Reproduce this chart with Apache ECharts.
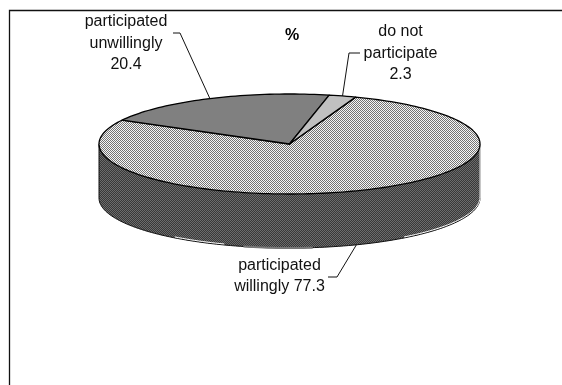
<!DOCTYPE html>
<html>
<head>
<meta charset="utf-8">
<style>html,body{margin:0;padding:0;background:#fff}#chart{width:562px;height:385px}</style>
<script src="https://cdn.jsdelivr.net/npm/echarts@6/dist/echarts.min.js"></script>
</head>
<body>
<div id="chart"></div>
<script>
// Survey shares, clockwise from the first slice
const categories = ['participated willingly', 'participated unwillingly', 'do not participate'];
const shares = [77.3, 20.4, 2.3];
const labelLines = [
  ['participated', 'willingly ' + shares[0]],
  ['participated', 'unwillingly', String(shares[1])],
  ['do not', 'participate', String(shares[2])]
];
const chartTitle = '%';

// Tilted disc geometry
const CX = 289.5, CY = 144, RX = 190.5, RY = 50, DEPTH = 54;
const FIRST_ANGLE = 20.3;
const FONT = '"Liberation Sans", Arial, sans-serif';

// Text block centre and leader elbow for each slice label
const labelBoxes = [
  { x: 279.5, y: 266, lineH: 21, elbow: [[328, 277], [337, 277]], onRim: true },
  { x: 126, y: 22, lineH: 21.5, elbow: [[173, 33], [180, 33]], onRim: false },
  { x: 400.5, y: 32, lineH: 21.5, elbow: [[360, 53], [349, 53]], onRim: false }
];

function checker(a, b) {
  const c = document.createElement('canvas');
  c.width = c.height = 2;
  const g = c.getContext('2d');
  g.fillStyle = a; g.fillRect(0, 0, 2, 2);
  g.fillStyle = b; g.fillRect(0, 0, 1, 1); g.fillRect(1, 1, 1, 1);
  return { image: c, repeat: 'repeat' };
}
const fills = [checker('#f6f6f6', '#747474'), '#808080', '#c0c0c0'];
const sideFill = checker('#383838', '#6c6c6c');

// Angles are measured clockwise from the top of the disc
function rim(deg, drop) {
  const r = deg * Math.PI / 180;
  return [CX + RX * Math.sin(r), CY - RY * Math.cos(r) + (drop || 0)];
}
function arc(from, to, drop) {
  const pts = [];
  const n = Math.max(2, Math.ceil(Math.abs(to - from) / 1.5));
  for (let i = 0; i <= n; i++) pts.push(rim(from + (to - from) * i / n, drop));
  return pts;
}
const total = shares.reduce((a, b) => a + b, 0);
const spans = [];
shares.reduce((start, v) => {
  const end = start + v / total * 360;
  spans.push([start, end]);
  return end;
}, FIRST_ANGLE);

function renderSide() {
  const outline = arc(90, 270, 0).concat(arc(270, 90, DEPTH));
  const stroke = (points, color, lineWidth) => ({
    type: 'polyline', shape: { points }, style: { fill: 'none', stroke: color, lineWidth }
  });
  return {
    type: 'group',
    children: [
      { type: 'polygon', shape: { points: outline }, style: { fill: sideFill, stroke: 'none' } },
      stroke(arc(270, 90, DEPTH), '#111', 1),
      stroke([rim(270, 0), rim(270, DEPTH)], '#111', 1),
      stroke(arc(173, 194, DEPTH), '#777', 2),
      stroke(arc(90, 143, DEPTH - 1), '#fff', 1),
      stroke(arc(200, 217, DEPTH - 1), '#fff', 1),
      stroke([rim(90, 0), rim(90, DEPTH)], '#b4b4b4', 1.5)
    ]
  };
}

function renderSlice(params) {
  const i = params.dataIndex;
  const s = spans[i];
  const pts = [[CX, CY]].concat(arc(s[0], s[1]));
  return {
    type: 'polygon',
    shape: { points: pts },
    style: { fill: fills[i], stroke: '#000', lineWidth: 1.3, lineJoin: 'round' }
  };
}

function renderLabel(params) {
  const i = params.dataIndex;
  const box = labelBoxes[i];
  const mid = (spans[i][0] + spans[i][1]) / 2;
  const children = [{
    type: 'polyline',
    shape: { points: box.elbow.concat([rim(mid, box.onRim ? DEPTH : 0)]) },
    style: { fill: 'none', stroke: '#111', lineWidth: 1 }
  }];
  labelLines[i].forEach((t, k) => children.push({
    type: 'text',
    style: { text: t, x: box.x, y: box.y + k * box.lineH, align: 'center', verticalAlign: 'middle',
      font: '16px ' + FONT, fill: '#111' }
  }));
  return { type: 'group', children };
}

const chart = echarts.init(document.getElementById('chart'), null, { renderer: 'canvas' });
chart.setOption({
  animation: false,
  backgroundColor: '#fff',
  title: {
    text: chartTitle, left: 280, top: 23,
    textStyle: { fontFamily: FONT, fontSize: 16, fontWeight: 'bold', color: '#000' }
  },
  graphic: [
    { type: 'polyline', silent: true, shape: { points: [[9.5, 385], [9.5, 10.5], [562, 10.5]] },
      style: { fill: 'none', stroke: '#111', lineWidth: 1.3 } }
  ],
  series: [
    { type: 'custom', coordinateSystem: 'none', silent: true, renderItem: renderSide, data: [shares[0]], z: 1 },
    { type: 'custom', coordinateSystem: 'none', silent: true, renderItem: renderSlice,
      data: categories.map((name, i) => ({ name, value: shares[i] })), z: 2 },
    { type: 'custom', coordinateSystem: 'none', silent: true, renderItem: renderLabel,
      data: categories.map((name, i) => ({ name, value: shares[i] })), z: 3 }
  ]
});
</script>
</body>
</html>
